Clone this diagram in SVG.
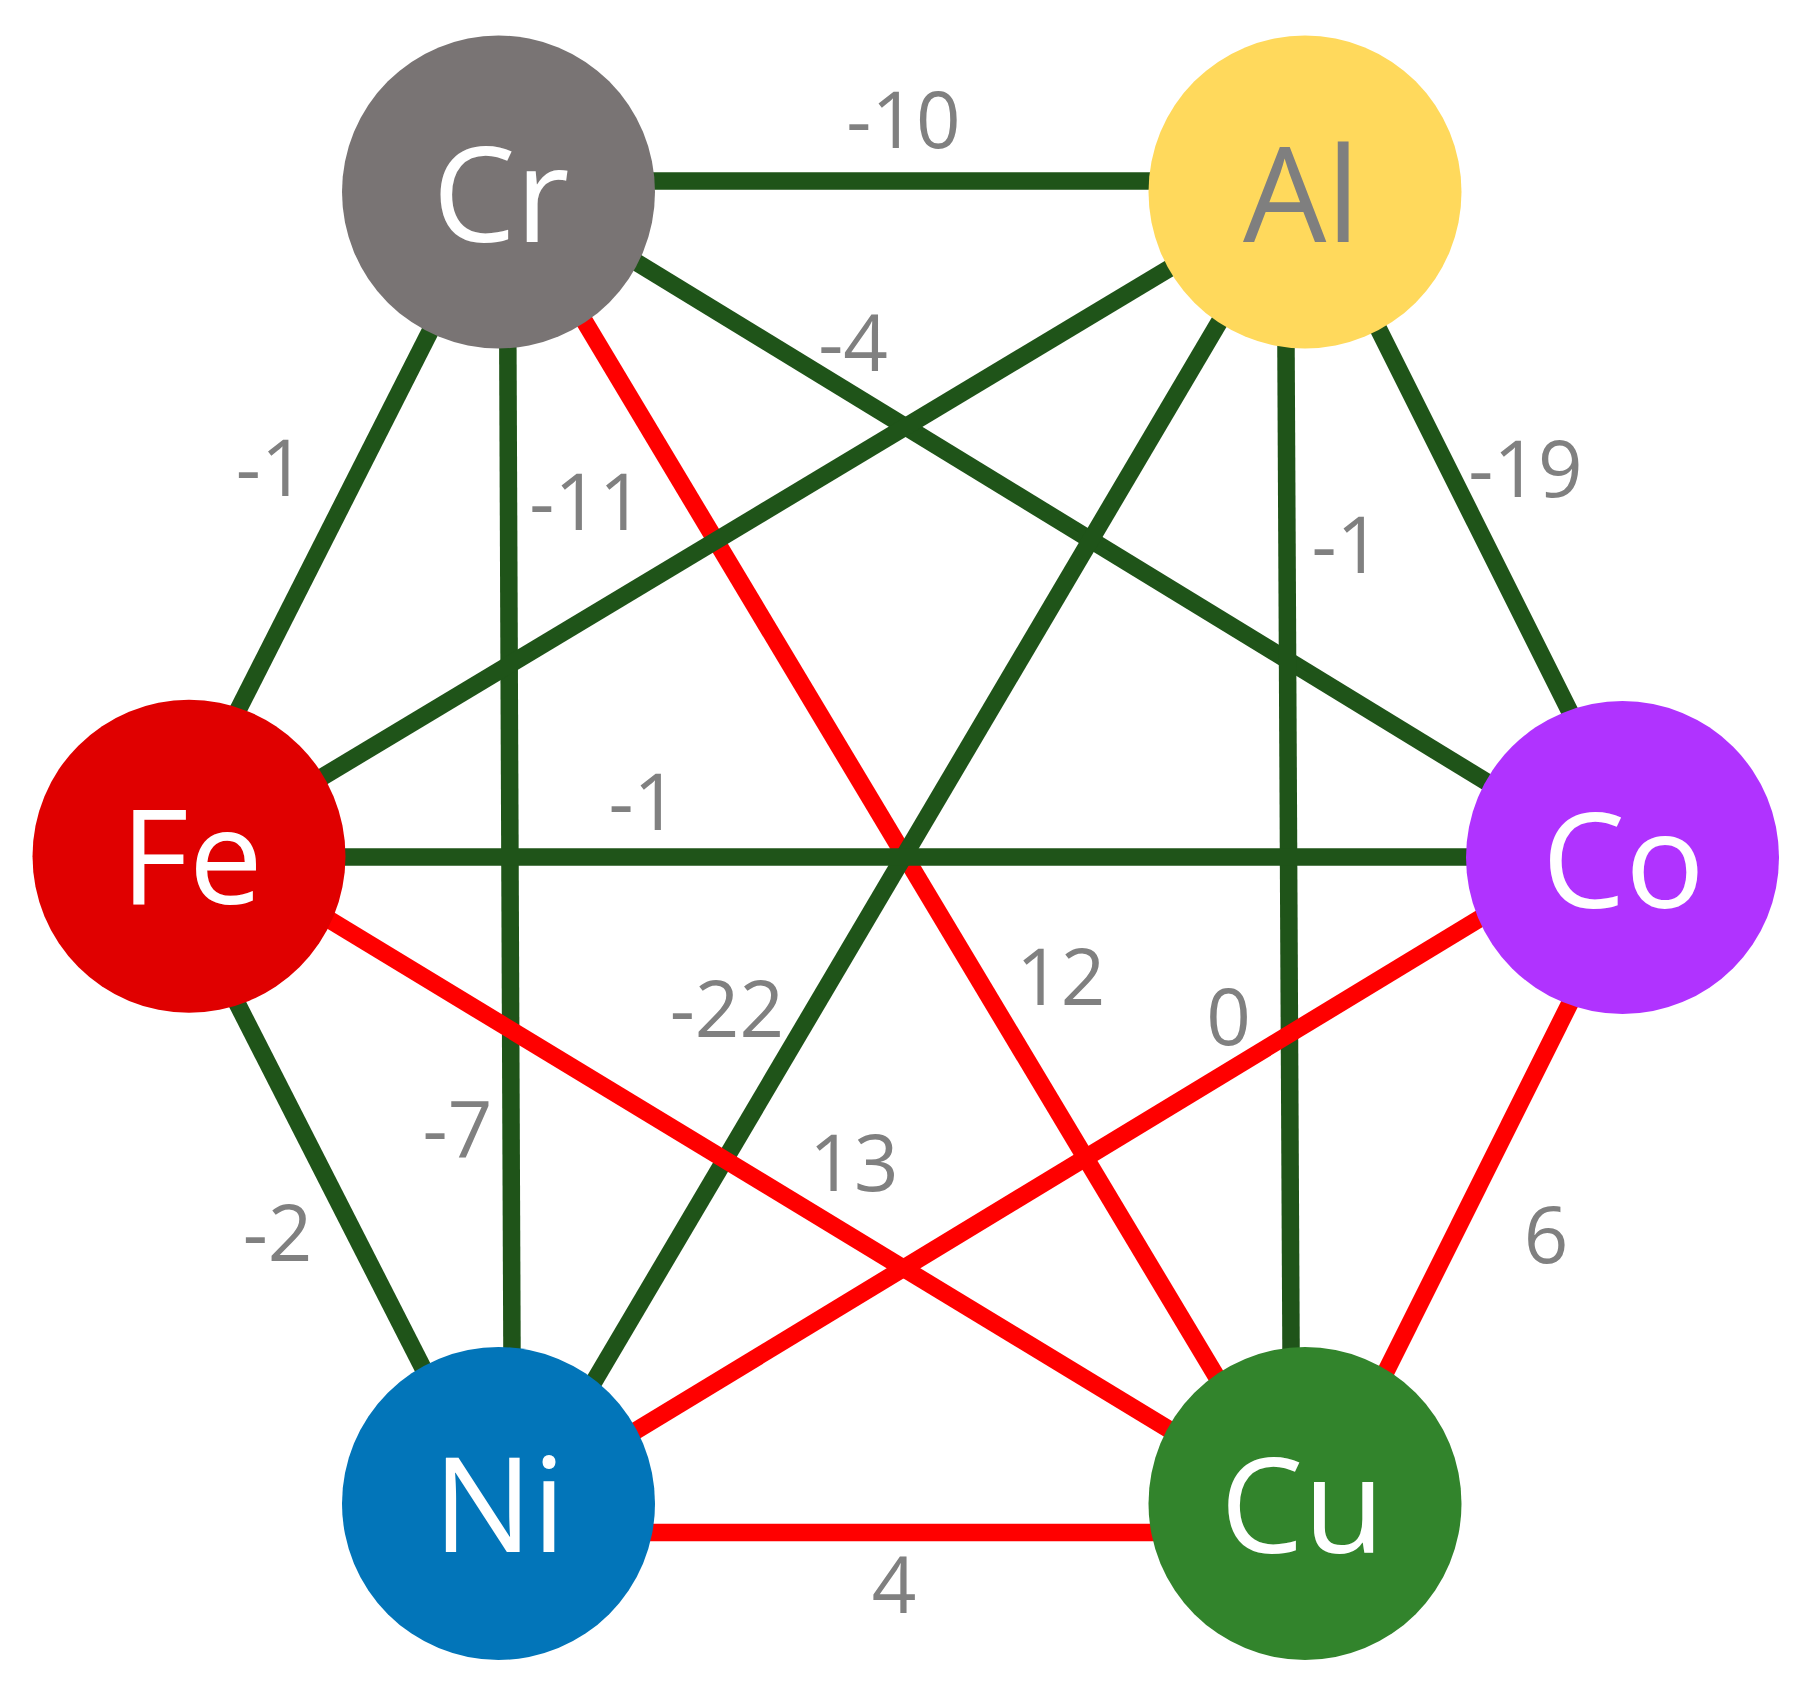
<svg xmlns="http://www.w3.org/2000/svg" width="1812" height="1689" viewBox="0 0 1812 1689">
<style>
.neg{stroke:#1F5419;stroke-width:17.5;fill:none}
.pos{stroke:#FF0000;stroke-width:17.5;fill:none}
.lbl{font-family:"Open Sans","Liberation Sans",sans-serif;font-size:78px;fill:#808080;text-anchor:middle}
.nt{font-family:"Open Sans","Liberation Sans",sans-serif;font-size:132px;fill:#FFFFFF;text-anchor:middle}
</style>
<rect width="1812" height="1689" fill="#FFFFFF"/>
<g id="connectors">
<line class="neg" x1="498.5" y1="181" x2="1305" y2="181"/>
<line class="neg" x1="500.8" y1="192" x2="164" y2="856"/>
<line class="neg" x1="507.2" y1="192" x2="512.6" y2="1503.5"/>
<line class="pos" x1="507" y1="192" x2="1292.5" y2="1503.5"/>
<line class="neg" x1="498.5" y1="178" x2="1622.5" y2="865"/>
<line class="neg" x1="189" y1="857" x2="1305" y2="187"/>
<line class="neg" x1="1296" y1="192" x2="522" y2="1503.5"/>
<line class="neg" x1="1310" y1="192" x2="1642.5" y2="857"/>
<line class="neg" x1="1285.2" y1="192" x2="1291.8" y2="1503.5"/>
<line class="neg" x1="189" y1="857" x2="1622.5" y2="857"/>
<line class="neg" x1="162" y1="856" x2="492" y2="1503.5"/>
<line class="pos" x1="189" y1="834.5" x2="1305" y2="1512"/>
<line class="pos" x1="498.5" y1="1514" x2="1622.5" y2="832"/>
<line class="pos" x1="1643" y1="857" x2="1320" y2="1503.5"/>
<line class="pos" x1="498.5" y1="1532.5" x2="1305" y2="1532.5"/>
<text class="lbl" x="903.5" y="148">-10</text>
<text class="lbl" x="853" y="371">-4</text>
<text class="lbl" x="270.7" y="496">-1</text>
<text class="lbl" x="586.5" y="530">-11</text>
<text class="lbl" x="643.3" y="830">-1</text>
<text class="lbl" x="1525.5" y="497">-19</text>
<text class="lbl" x="1346.3" y="573">-1</text>
<text class="lbl" x="1060.8" y="1005">12</text>
<text class="lbl" x="1228.6" y="1045">0</text>
<text class="lbl" x="726.9" y="1037">-22</text>
<text class="lbl" x="457.4" y="1157">-7</text>
<text class="lbl" x="853.9" y="1191">13</text>
<text class="lbl" x="277.6" y="1261">-2</text>
<text class="lbl" x="1546" y="1263">6</text>
<text class="lbl" x="894" y="1613">4</text>
</g>
<g id="node-Cr">
<circle cx="498.5" cy="192" r="156.5" fill="#797474"/>
<text class="nt" x="501" y="242">Cr</text>
</g>
<g id="node-Al">
<circle cx="1305" cy="192" r="156.5" fill="#FFD95C"/>
<text class="nt" x="1301.5" y="242" fill="#7F7F7F" style="fill:#7F7F7F">Al</text>
</g>
<g id="node-Fe">
<circle cx="189" cy="856.3" r="156.5" fill="#E00000"/>
<text class="nt" x="191.7" y="904.3">Fe</text>
</g>
<g id="node-Co">
<circle cx="1622.5" cy="857.5" r="156.5" fill="#B033FF"/>
<text class="nt" x="1623.3" y="908.3">Co</text>
</g>
<g id="node-Ni">
<circle cx="498.5" cy="1503.5" r="156.5" fill="#0275B9"/>
<text class="nt" x="499.3" y="1552.3">Ni</text>
</g>
<g id="node-Cu">
<circle cx="1305" cy="1503.5" r="156.5" fill="#32842C"/>
<text class="nt" x="1302.3" y="1552.7">Cu</text>
</g>
</svg>
